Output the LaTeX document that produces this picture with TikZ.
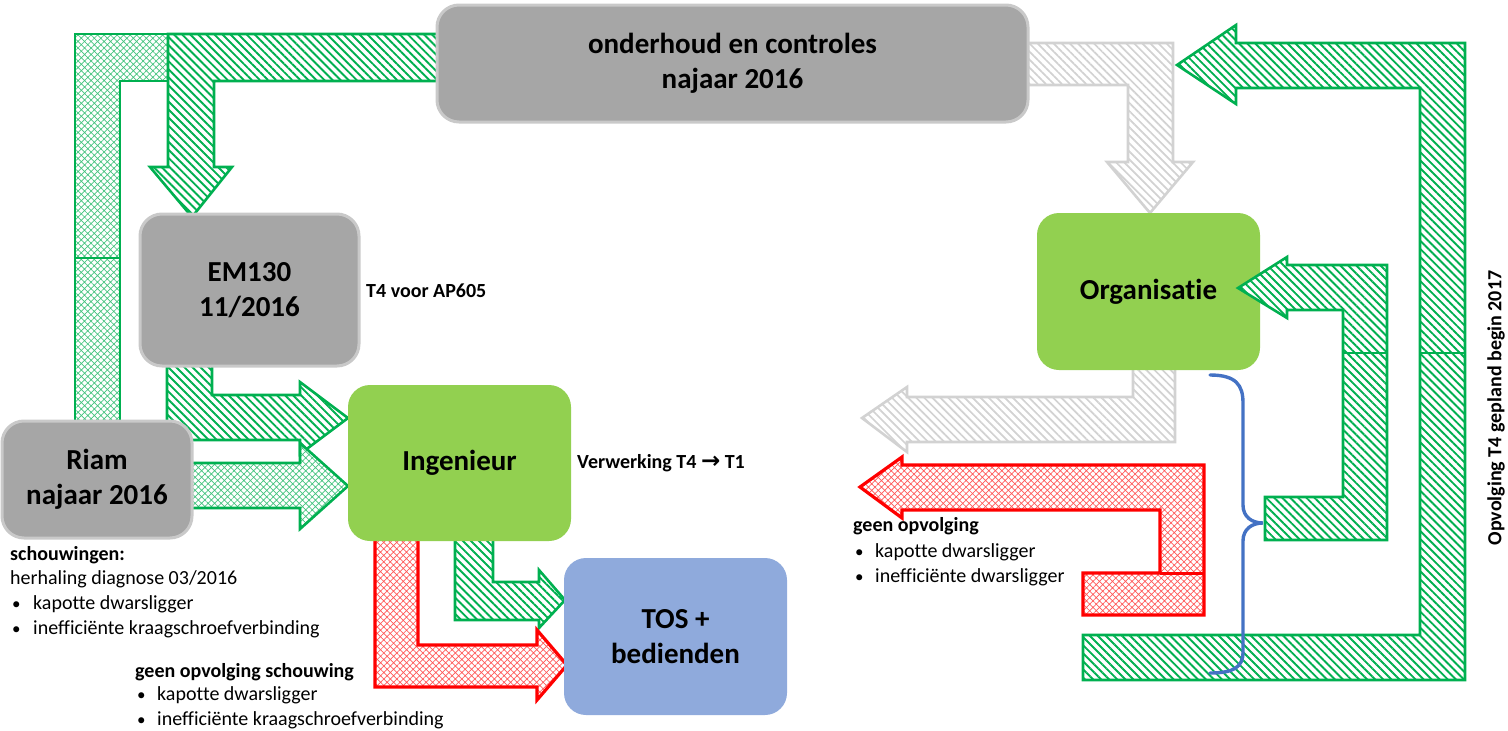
\documentclass[tikz,border=0pt]{standalone}
\usepackage{fontspec}
\setmainfont{Carlito}[Ligatures={NoCommon}]
\newfontfamily\symfont{DejaVu Sans}
\usetikzlibrary{patterns.meta}

\definecolor{grn}{HTML}{00B050}
\definecolor{grnlight}{HTML}{45C47F}
\definecolor{rd}{HTML}{FF0000}
\definecolor{rdlight}{HTML}{FF5A5A}
\definecolor{lgray}{HTML}{D2D2D2}
\definecolor{boxgray}{HTML}{A6A6A6}
\definecolor{boxedge}{HTML}{C9C9C9}
\definecolor{leaf}{HTML}{92D050}
\definecolor{sky}{HTML}{8FAADC}
\definecolor{bracecol}{HTML}{4472C4}

\tikzset{
  hatchgreen/.style={draw=grn, line width=2.6pt, preaction={fill=white},
    pattern={Lines[angle=-45,distance=5.7pt,line width=1.9pt]}, pattern color=grn},
  crossgreen/.style={draw=grn, line width=2.6pt, preaction={fill=white},
    pattern={Hatch[angle=45,distance=4.6pt,line width=0.7pt]}, pattern color=grnlight},
  crossred/.style={draw=rd, line width=3.2pt, preaction={fill=white},
    pattern={Hatch[angle=45,distance=4.6pt,line width=0.7pt]}, pattern color=rdlight},
  hatchgray/.style={draw=lgray, line width=2.6pt, preaction={fill=white},
    pattern={Lines[angle=-45,distance=5.7pt,line width=1.7pt]}, pattern color=lgray},
  seam/.style={line width=2pt},
  boxbase/.style={rounded corners=22pt, align=center, inner sep=0pt,
    font=\fontsize{29}{35}\selectfont\bfseries},
  graybox/.style={boxbase, fill=boxgray, draw=boxedge, line width=3pt},
  leafbox/.style={boxbase, fill=leaf},
  skybox/.style={boxbase, fill=sky},
  note/.style={anchor=base west, inner sep=0pt, font=\fontsize{20}{24}\selectfont},
  notebold/.style={note, font=\fontsize{20}{24}\selectfont\bfseries},
  bulletdot/.style={note, font=\fontsize{17}{24}\selectfont},
  bracestyle/.style={draw=bracecol, line width=3.4pt, line cap=round}
}

\begin{document}
\begin{tikzpicture}[x=1pt,y=-1pt]
\useasboundingbox (0,0) rectangle (1508,731);

% --- left cross-hatched feedback band (Riam -> top) ---
\path[crossgreen] (75,421) -- (75,34) -- (170,34) -- (170,81) -- (120,81) -- (120,421) -- cycle;
\draw[grn, seam] (75,258) -- (120,258);

% --- onderhoud -> EM130 ---
\path[hatchgreen] (440,34) -- (168,34) -- (168,167) -- (150,167) -- (192,217)
  -- (232,167) -- (214,167) -- (214,81) -- (440,81) -- cycle;

% --- EM130 -> Ingenieur ---
\path[hatchgreen] (167,362) -- (167,440) -- (300,440) -- (300,454) -- (348,418)
  -- (300,382) -- (300,395) -- (212,395) -- (212,362) -- cycle;

% --- Riam -> Ingenieur ---
\path[crossgreen] (188,463) -- (300,463) -- (300,443) -- (348,486) -- (300,529)
  -- (300,508) -- (188,508) -- cycle;

% --- Ingenieur -> TOS ---
\path[hatchgreen] (455,537) -- (455,620) -- (539,620) -- (539,628) -- (565,600)
  -- (539,570) -- (539,582) -- (493,582) -- (493,537) -- cycle;
\path[crossred] (375,537) -- (375,687) -- (537,687) -- (537,700) -- (567,665)
  -- (537,630) -- (537,645) -- (418,645) -- (418,537) -- cycle;

% --- onderhoud -> Organisatie ---
\path[hatchgray] (1024,43) -- (1173,43) -- (1173,162) -- (1193,162) -- (1150,213)
  -- (1107,162) -- (1128,162) -- (1128,85) -- (1024,85) -- cycle;

% --- Organisatie -> left ---
\path[hatchgray] (1133,366) -- (1133,397) -- (907,397) -- (907,387) -- (862,418)
  -- (907,452) -- (907,442) -- (1175,442) -- (1175,366) -- cycle;

% --- no follow-up (red) ---
\path[crossred] (1083,573) -- (1083,615) -- (1204,615) -- (1204,465) -- (902,465)
  -- (902,457) -- (860,487) -- (902,518) -- (902,510) -- (1160,510) -- (1160,573) -- cycle;
\draw[rd, line width=3pt] (1160,573) -- (1204,573);

% --- large loop back to onderhoud ---
\path[hatchgreen] (1083,635) -- (1083,680) -- (1465,680) -- (1465,43) -- (1236,43)
  -- (1236,25) -- (1177,65) -- (1236,104) -- (1236,88) -- (1420,88) -- (1420,635) -- cycle;
\draw[grn, seam] (1420,353) -- (1465,353);

% --- boxes ---
\node[graybox, minimum width=591pt, minimum height=117pt] (onderhoud) at (732.5,63.5)
  {onderhoud en controles\\najaar 2016};
\node[graybox, minimum width=219pt, minimum height=152pt] (em) at (249.5,290)
  {EM130\\11/2016};
\node[graybox, minimum width=190pt, minimum height=117pt] (riam) at (97,479.5)
  {Riam\\najaar 2016};
\node[leafbox, minimum width=223pt, minimum height=156pt] (ing) at (459.5,463)
  {Ingenieur};
\node[skybox, minimum width=223pt, minimum height=157pt] (tos) at (675.5,636.5)
  {TOS +\\bedienden};
\node[leafbox, minimum width=223pt, minimum height=157pt] (org) at (1148.5,291.5)
  {Organisatie};

% --- return into Organisatie ---
\path[hatchgreen] (1265,497) -- (1265,540) -- (1387,540) -- (1387,265) -- (1287,265)
  -- (1287,257) -- (1238,288) -- (1287,318) -- (1287,310) -- (1343,310) -- (1343,497) -- cycle;
\draw[grn, seam] (1343,353) -- (1387,353);

% --- curly brace ---
\draw[bracestyle] (1210,375) .. controls (1236,375) and (1243,385) .. (1243,403)
  -- (1243,505) .. controls (1243,517) and (1252,523) .. (1263,523)
  .. controls (1252,523) and (1243,529) .. (1243,541)
  -- (1243,652) .. controls (1243,667) and (1234,673) .. (1210,673);

% --- labels ---
\node[notebold] (t4) at (366,297) {T4 voor AP605};
\node[notebold] (verw) at (577,468) {Verwerking T4 {\symfont\bfseries\fontsize{23}{24}\selectfont →} T1};

\node[notebold] (sch) at (10,560) {schouwingen:};
\node[note] (herh) at (10,584) {herhaling diagnose 03/2016};
\node[bulletdot] (b1) at (12,609) {•};
\node[note] (s1) at (33,609) {kapotte dwarsligger};
\node[bulletdot] (b2) at (12,634) {•};
\node[note] (s2) at (33,634) {inefficiënte kraagschroefverbinding};

\node[notebold] (gos) at (135,677) {geen opvolging schouwing};
\node[bulletdot] (b3) at (137,700) {•};
\node[note] (g1) at (157,700) {kapotte dwarsligger};
\node[bulletdot] (b4) at (137,725) {•};
\node[note] (g2) at (157,725) {inefficiënte kraagschroefverbinding};

\node[notebold] (go) at (853,531) {geen opvolging};
\node[bulletdot] (b5) at (855,557) {•};
\node[note] (r1) at (875,557) {kapotte dwarsligger};
\node[bulletdot] (b6) at (855,582) {•};
\node[note] (r2) at (875,582) {inefficiënte dwarsligger};

\node[rotate=90, inner sep=0pt, font=\fontsize{20}{24}\selectfont\bfseries] (opv) at (1496,408)
  {Opvolging T4 gepland begin 2017};
\end{tikzpicture}
\end{document}
